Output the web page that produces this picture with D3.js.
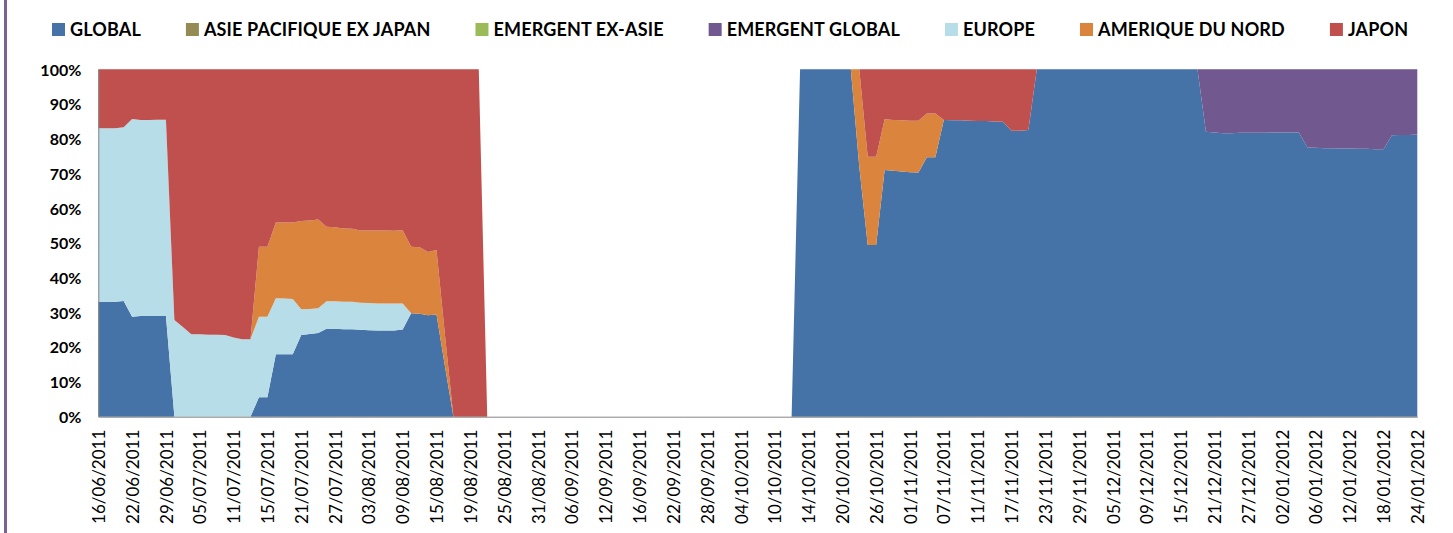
<!DOCTYPE html>
<html>
<head>
<meta charset="utf-8">
<script src="https://cdn.jsdelivr.net/npm/d3@7"></script>
<style>
  body { margin: 0; background: #fff; }
  svg { display: block; font-family: Lato, "Open Sans", sans-serif; }
</style>
</head>
<body>
<div class="chart"></div>
<script>
// series in stacking order (bottom -> top), same order as the legend
const seriesNames = [
  "GLOBAL",
  "ASIE PACIFIQUE EX JAPAN",
  "EMERGENT EX-ASIE",
  "EMERGENT GLOBAL",
  "EUROPE",
  "AMERIQUE DU NORD",
  "JAPON"
];
const seriesColors = ["#4572A7", "#948A54", "#9BBB59", "#71588F", "#B7DDE8", "#DB843D", "#C0504D"];

// one label every 4 data points
const tickLabels = [
  "16/06/2011", "22/06/2011", "29/06/2011", "05/07/2011", "11/07/2011", "15/07/2011",
  "21/07/2011", "27/07/2011", "03/08/2011", "09/08/2011", "15/08/2011", "19/08/2011",
  "25/08/2011", "31/08/2011", "06/09/2011", "12/09/2011", "16/09/2011", "22/09/2011",
  "28/09/2011", "04/10/2011", "10/10/2011", "14/10/2011", "20/10/2011", "26/10/2011",
  "01/11/2011", "07/11/2011", "11/11/2011", "17/11/2011", "23/11/2011", "29/11/2011",
  "05/12/2011", "09/12/2011", "15/12/2011", "21/12/2011", "27/12/2011", "02/01/2012",
  "06/01/2012", "12/01/2012", "18/01/2012", "24/01/2012"
];
const labelStep = 4;

const yTicks = [0, 0.1, 0.2, 0.3, 0.4, 0.5, 0.6, 0.7, 0.8, 0.9, 1];

// weights in %, 157 points (10 per line)
const globalVals = [
  33.1, 33.1, 33.1, 33.3, 28.8, 29.0, 29.0, 29.0, 29.0, 0,
  0, 0, 0, 0, 0, 0, 0, 0, 0, 5.6,
  5.6, 18.0, 18.0, 18.0, 23.5, 23.8, 24.1, 25.3, 25.3, 25.2,
  25.2, 25.0, 24.9, 24.8, 24.8, 24.8, 25.1, 29.8, 29.6, 29.2,
  29.4, 14.5, 0, 0, 0, 0, 0, 0, 0, 0,
  0, 0, 0, 0, 0, 0, 0, 0, 0, 0,
  0, 0, 0, 0, 0, 0, 0, 0, 0, 0,
  0, 0, 0, 0, 0, 0, 0, 0, 0, 0,
  0, 0, 0, 100, 100, 100, 100, 100, 100, 100,
  72, 49.4, 49.4, 71.0, 70.8, 70.6, 70.4, 70.3, 74.7, 74.7,
  85.4, 85.3, 85.3, 85.2, 85.1, 85.1, 85.0, 84.9, 82.3, 82.3,
  82.5, 100, 100, 100, 100, 100, 100, 100, 100, 100,
  100, 100, 100, 100, 100, 100, 100, 100, 100, 100,
  100, 82.0, 81.8, 81.6, 81.6, 81.7, 81.7, 81.7, 81.7, 81.8,
  81.8, 81.8, 81.8, 77.5, 77.4, 77.3, 77.3, 77.2, 77.2, 77.1,
  77.1, 77.0, 77.0, 81.0, 81.1, 81.1, 81.2
];

const asieVals = [
  0, 0, 0, 0, 0, 0, 0, 0, 0, 0,
  0, 0, 0, 0, 0, 0, 0, 0, 0, 0,
  0, 0, 0, 0, 0, 0, 0, 0, 0, 0,
  0, 0, 0, 0, 0, 0, 0, 0, 0, 0,
  0, 0, 0, 0, 0, 0, 0, 0, 0, 0,
  0, 0, 0, 0, 0, 0, 0, 0, 0, 0,
  0, 0, 0, 0, 0, 0, 0, 0, 0, 0,
  0, 0, 0, 0, 0, 0, 0, 0, 0, 0,
  0, 0, 0, 0, 0, 0, 0, 0, 0, 0,
  0, 0, 0, 0, 0, 0, 0, 0, 0, 0,
  0, 0, 0, 0, 0, 0, 0, 0, 0, 0,
  0, 0, 0, 0, 0, 0, 0, 0, 0, 0,
  0, 0, 0, 0, 0, 0, 0, 0, 0, 0,
  0, 0, 0, 0, 0, 0, 0, 0, 0, 0,
  0, 0, 0, 0, 0, 0, 0, 0, 0, 0,
  0, 0, 0, 0, 0, 0, 0
];

const emergentExAsieVals = [
  0, 0, 0, 0, 0, 0, 0, 0, 0, 0,
  0, 0, 0, 0, 0, 0, 0, 0, 0, 0,
  0, 0, 0, 0, 0, 0, 0, 0, 0, 0,
  0, 0, 0, 0, 0, 0, 0, 0, 0, 0,
  0, 0, 0, 0, 0, 0, 0, 0, 0, 0,
  0, 0, 0, 0, 0, 0, 0, 0, 0, 0,
  0, 0, 0, 0, 0, 0, 0, 0, 0, 0,
  0, 0, 0, 0, 0, 0, 0, 0, 0, 0,
  0, 0, 0, 0, 0, 0, 0, 0, 0, 0,
  0, 0, 0, 0, 0, 0, 0, 0, 0, 0,
  0, 0, 0, 0, 0, 0, 0, 0, 0, 0,
  0, 0, 0, 0, 0, 0, 0, 0, 0, 0,
  0, 0, 0, 0, 0, 0, 0, 0, 0, 0,
  0, 0, 0, 0, 0, 0, 0, 0, 0, 0,
  0, 0, 0, 0, 0, 0, 0, 0, 0, 0,
  0, 0, 0, 0, 0, 0, 0
];

const emergentGlobalVals = [
  0, 0, 0, 0, 0, 0, 0, 0, 0, 0,
  0, 0, 0, 0, 0, 0, 0, 0, 0, 0,
  0, 0, 0, 0, 0, 0, 0, 0, 0, 0,
  0, 0, 0, 0, 0, 0, 0, 0, 0, 0,
  0, 0, 0, 0, 0, 0, 0, 0, 0, 0,
  0, 0, 0, 0, 0, 0, 0, 0, 0, 0,
  0, 0, 0, 0, 0, 0, 0, 0, 0, 0,
  0, 0, 0, 0, 0, 0, 0, 0, 0, 0,
  0, 0, 0, 0, 0, 0, 0, 0, 0, 0,
  0, 0, 0, 0, 0, 0, 0, 0, 0, 0,
  0, 0, 0, 0, 0, 0, 0, 0, 0, 0,
  0, 0, 0, 0, 0, 0, 0, 0, 0, 0,
  0, 0, 0, 0, 0, 0, 0, 0, 0, 0,
  0, 18.0, 18.2, 18.4, 18.4, 18.3, 18.3, 18.3, 18.3, 18.2,
  18.2, 18.2, 18.2, 22.5, 22.6, 22.7, 22.7, 22.8, 22.8, 22.9,
  22.9, 23.0, 23.0, 19.0, 18.9, 18.9, 18.8
];

const europeVals = [
  49.9, 49.9, 49.9, 50.0, 56.9, 56.4, 56.4, 56.5, 56.5, 27.8,
  25.8, 23.7, 23.7, 23.6, 23.6, 23.5, 22.8, 22.3, 22.3, 23.2,
  23.2, 16.1, 16.0, 15.9, 7.4, 7.2, 7.1, 7.9, 7.9, 7.9,
  7.9, 7.8, 7.8, 7.8, 7.8, 7.8, 7.5, 0, 0, 0,
  0, 0, 0, 0, 0, 0, 0, 0, 0, 0,
  0, 0, 0, 0, 0, 0, 0, 0, 0, 0,
  0, 0, 0, 0, 0, 0, 0, 0, 0, 0,
  0, 0, 0, 0, 0, 0, 0, 0, 0, 0,
  0, 0, 0, 0, 0, 0, 0, 0, 0, 0,
  0, 0, 0, 0, 0, 0, 0, 0, 0, 0,
  0, 0, 0, 0, 0, 0, 0, 0, 0, 0,
  0, 0, 0, 0, 0, 0, 0, 0, 0, 0,
  0, 0, 0, 0, 0, 0, 0, 0, 0, 0,
  0, 0, 0, 0, 0, 0, 0, 0, 0, 0,
  0, 0, 0, 0, 0, 0, 0, 0, 0, 0,
  0, 0, 0, 0, 0, 0, 0
];

const ameriqueVals = [
  0, 0, 0, 0, 0, 0, 0, 0, 0, 0,
  0, 0, 0, 0, 0, 0, 0, 0, 0, 20.1,
  20.1, 21.8, 21.9, 22.0, 25.4, 25.5, 25.6, 21.5, 21.3, 21.1,
  21.0, 20.8, 20.9, 21.0, 21.0, 20.9, 21.1, 19.1, 19.2, 18.2,
  18.6, 9.0, 0, 0, 0, 0, 0, 0, 0, 0,
  0, 0, 0, 0, 0, 0, 0, 0, 0, 0,
  0, 0, 0, 0, 0, 0, 0, 0, 0, 0,
  0, 0, 0, 0, 0, 0, 0, 0, 0, 0,
  0, 0, 0, 0, 0, 0, 0, 0, 0, 0,
  28.0, 25.4, 25.4, 14.6, 14.6, 14.7, 14.8, 14.9, 12.6, 12.6,
  0, 0, 0, 0, 0, 0, 0, 0, 0, 0,
  0, 0, 0, 0, 0, 0, 0, 0, 0, 0,
  0, 0, 0, 0, 0, 0, 0, 0, 0, 0,
  0, 0, 0, 0, 0, 0, 0, 0, 0, 0,
  0, 0, 0, 0, 0, 0, 0, 0, 0, 0,
  0, 0, 0, 0, 0, 0, 0
];

const japonVals = [
  17.0, 17.0, 17.0, 16.7, 14.3, 14.6, 14.6, 14.5, 14.5, 72.2,
  74.2, 76.3, 76.3, 76.4, 76.4, 76.5, 77.2, 77.7, 77.7, 51.1,
  51.1, 44.1, 44.1, 44.1, 43.7, 43.5, 43.2, 45.3, 45.5, 45.8,
  45.9, 46.4, 46.4, 46.4, 46.4, 46.5, 46.3, 51.1, 51.2, 52.6,
  52.0, 76.5, 100, 100, 100, 100, 0, 0, 0, 0,
  0, 0, 0, 0, 0, 0, 0, 0, 0, 0,
  0, 0, 0, 0, 0, 0, 0, 0, 0, 0,
  0, 0, 0, 0, 0, 0, 0, 0, 0, 0,
  0, 0, 0, 0, 0, 0, 0, 0, 0, 0,
  0, 25.2, 25.2, 14.4, 14.6, 14.7, 14.8, 14.8, 12.7, 12.7,
  14.6, 14.7, 14.7, 14.8, 14.9, 14.9, 15.0, 15.1, 17.7, 17.7,
  17.5, 0, 0, 0, 0, 0, 0, 0, 0, 0,
  0, 0, 0, 0, 0, 0, 0, 0, 0, 0,
  0, 0, 0, 0, 0, 0, 0, 0, 0, 0,
  0, 0, 0, 0, 0, 0, 0, 0, 0, 0,
  0, 0, 0, 0, 0, 0, 0
];

const allSeries = [globalVals, asieVals, emergentExAsieVals, emergentGlobalVals, europeVals, ameriqueVals, japonVals];

drawChart();

function drawChart() {
  const w = 1453;
  const h = 533;
  const plot = { left: 98.3, right: 1417.3, top: 69.3, bottom: 416.7 };

  const n = globalVals.length;
  const table = d3.range(n).map((i) => {
    const row = { i: i };
    seriesNames.forEach((name, k) => (row[name] = allSeries[k][i] || 0));
    return row;
  });

  const stacked = d3.stack().keys(seriesNames).offset(d3.stackOffsetExpand)(table);

  const xScale = d3.scaleLinear().domain([0, n - 1]).range([plot.left, plot.right]);
  const yScale = d3.scaleLinear().domain([0, 1]).range([plot.bottom, plot.top]);

  const svg = d3.select(".chart").append("svg").attr("width", w).attr("height", h);

  // frame edge on the left
  svg.append("rect").attr("x", 4).attr("y", 0).attr("width", 3).attr("height", h).attr("fill", "#7A6297");

  const area = d3
    .area()
    .x((d) => xScale(d.data.i))
    .y0((d) => yScale(d[0]))
    .y1((d) => yScale(d[1]));

  svg
    .append("g")
    .selectAll("path")
    .data(stacked)
    .enter()
    .append("path")
    .attr("d", area)
    .attr("fill", (d, k) => seriesColors[k]);

  // y axis
  const yAxis = d3.axisLeft(yScale).tickValues(yTicks).tickSize(0).tickPadding(17).tickFormat(d3.format(".0%"));
  const gy = svg.append("g").attr("transform", "translate(" + plot.left + ",0)").call(yAxis);
  gy.select(".domain").attr("stroke", "#868686");
  gy.selectAll("text")
    .attr("dy", "0.36em")
    .style("font-size", "16px")
    .style("font-weight", "bold")
    .style("font-family", "Lato, sans-serif")
    .attr("fill", "#000");

  // x axis
  const tickIdx = tickLabels.map((t, k) => k * labelStep);
  const xAxis = d3.axisBottom(xScale).tickValues(tickIdx).tickSize(0).tickFormat((d) => tickLabels[d / labelStep]);
  const gx = svg.append("g").attr("transform", "translate(0," + plot.bottom + ")").call(xAxis);
  gx.select(".domain").attr("stroke", "#868686");
  gx.selectAll("text")
    .attr("transform", "rotate(-90)")
    .attr("x", -13)
    .attr("y", 0)
    .attr("dy", "0.36em")
    .style("text-anchor", "end")
    .style("font-size", "17px")
    .style("font-family", "Lato, sans-serif")
    .attr("fill", "#000");

  // legend
  const legend = svg.append("g").attr("transform", "translate(52,0)");
  let cursor = 0;
  seriesNames.forEach((name, k) => {
    const item = legend.append("g").attr("transform", "translate(" + cursor + ",0)");
    item.append("rect").attr("x", 0).attr("y", 23).attr("width", 13).attr("height", 13).attr("fill", seriesColors[k]);
    const label = item
      .append("text")
      .attr("x", 18)
      .attr("y", 35.8)
      .style("font-size", "18px")
      .style("font-weight", "bold")
      .style("letter-spacing", "0.15px")
      .attr("fill", "#000")
      .text(name);
    cursor += 18 + label.node().getComputedTextLength() + 45;
  });
}
</script>
</body>
</html>
